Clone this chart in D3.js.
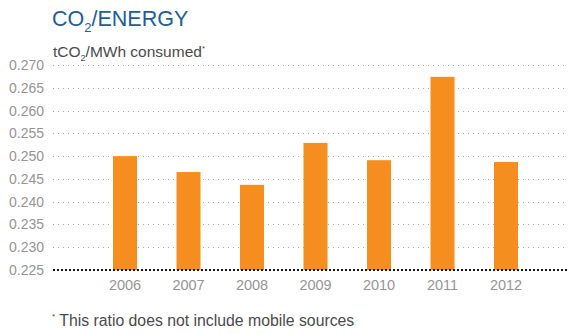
<!DOCTYPE html>
<html>
<head>
<meta charset="utf-8">
<script src="https://cdn.jsdelivr.net/npm/d3@7"></script>
<style>
  html, body { margin: 0; padding: 0; background: #fff; }
  svg { display: block; font-family: "Liberation Sans", Arial, sans-serif; }
</style>
</head>
<body>
<svg id="chart" width="568" height="334"></svg>
<script>
// CO2 intensity of energy consumed, by year
const years = ["2006", "2007", "2008", "2009", "2010", "2011", "2012"];
const intensity = [0.2500, 0.2465, 0.2437, 0.2529, 0.2491, 0.2674, 0.2487];
const yTicks = [0.225, 0.230, 0.235, 0.240, 0.245, 0.250, 0.255, 0.260, 0.265, 0.270];

const FONT = "'Liberation Sans', Arial, sans-serif";
const svg = d3.select("#chart");

const y = d3.scaleLinear().domain([0.225, 0.270]).range([270, 65]);
const x = d3.scaleBand().domain(years).range([93.25, 537.75])
  .paddingInner(0.622).paddingOuter(0.311);

const gridLeft = 53, gridRight = 568;

// horizontal dotted gridlines
svg.append("g").selectAll("line")
  .data(yTicks.slice(1))
  .join("line")
  .attr("x1", gridLeft).attr("x2", gridRight)
  .attr("y1", d => Math.round(y(d)) + 0.5).attr("y2", d => Math.round(y(d)) + 0.5)
  .attr("stroke", "#a8a8a8")
  .attr("stroke-width", 1)
  .attr("stroke-dasharray", "1,4");

// y-axis labels
const yAxis = d3.axisLeft(y).tickValues(yTicks).tickFormat(d3.format(".3f")).tickSize(0).tickPadding(0);
const gy = svg.append("g").attr("transform", "translate(44,0)").call(yAxis);
gy.select(".domain").remove();
gy.selectAll("text")
  .attr("fill", "#959595")
  .style("font-size", "14px")
  .style("font-family", FONT);

// bars
svg.append("g").selectAll("rect")
  .data(years.map((yr, i) => ({ yr, v: intensity[i] })))
  .join("rect")
  .attr("x", d => x(d.yr))
  .attr("width", x.bandwidth())
  .attr("y", d => y(d.v))
  .attr("height", d => y(0.225) - y(d.v))
  .attr("fill", "#f68d1f");

// baseline
svg.append("line")
  .attr("x1", gridLeft).attr("x2", gridRight)
  .attr("y1", y(0.225)).attr("y2", y(0.225))
  .attr("stroke", "#111")
  .attr("stroke-width", 2)
  .attr("stroke-dasharray", "2,2");

// x-axis labels
const xAxis = d3.axisBottom(x).tickSize(0).tickPadding(0);
const gx = svg.append("g").attr("transform", "translate(0,279.5)").call(xAxis);
gx.select(".domain").remove();
gx.selectAll("text")
  .attr("fill", "#959595")
  .attr("dy", "0.71em")
  .style("font-size", "14.5px")
  .style("font-family", FONT);

// title
const title = svg.append("text")
  .attr("x", 52).attr("y", 26)
  .attr("fill", "#215d98")
  .style("font-size", "21.5px");
title.append("tspan").text("CO");
title.append("tspan").text("2").style("font-size", "13px").attr("dy", 6);
title.append("tspan").text("/ENERGY").attr("dy", -6);

// unit label
const unit = svg.append("text")
  .attr("x", 53).attr("y", 57)
  .attr("fill", "#4a4a4a")
  .style("font-size", "15.5px");
unit.append("tspan").text("tCO");
unit.append("tspan").text("2").style("font-size", "9px").attr("dy", 4);
unit.append("tspan").text("/MWh consumed").attr("dy", -4);
unit.append("tspan").text("*").style("font-size", "8px").attr("dy", -6);

// footnote
const note = svg.append("text")
  .attr("x", 52).attr("y", 326)
  .attr("fill", "#4a4a4a")
  .style("font-size", "16px");
note.append("tspan").text("*").style("font-size", "8px").attr("dy", -7);
note.append("tspan").text(" This ratio does not include mobile sources").attr("dy", 7)
  .style("font-size", "15.8px");
</script>
</body>
</html>
